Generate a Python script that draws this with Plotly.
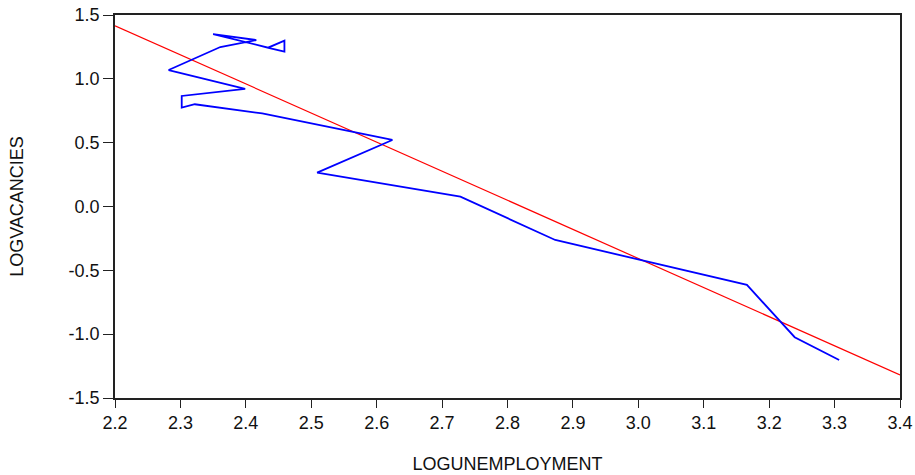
import plotly.graph_objects as go

# Path of the blue series (log unemployment, log vacancies)
log_unemployment = [3.307, 3.239, 3.166, 2.873, 2.728, 2.509, 2.624, 2.425,
                    2.322, 2.302, 2.302, 2.399, 2.282, 2.361, 2.416, 2.350,
                    2.434, 2.459, 2.459, 2.433]
log_vacancies = [-1.202, -1.024, -0.614, -0.262, 0.077, 0.265, 0.521, 0.729,
                 0.801, 0.774, 0.866, 0.921, 1.069, 1.249, 1.304, 1.351,
                 1.244, 1.299, 1.213, 1.245]

# Fitted (regression) line end points
fit_x = [2.2, 3.4]
fit_y = [1.416, -1.319]

x_tickvals = [2.2, 2.3, 2.4, 2.5, 2.6, 2.7, 2.8, 2.9, 3.0, 3.1, 3.2, 3.3, 3.4]
x_ticktext = ["2.2", "2.3", "2.4", "2.5", "2.6", "2.7", "2.8", "2.9", "3.0",
              "3.1", "3.2", "3.3", "3.4"]
y_tickvals = [-1.5, -1.0, -0.5, 0.0, 0.5, 1.0, 1.5]
y_ticktext = ["-1.5", "-1.0", "-0.5", "0.0", "0.5", "1.0", "1.5"]

FONT = "Liberation Sans, Arial, sans-serif"

fig = go.Figure()
fig.add_trace(go.Scatter(x=fit_x, y=fit_y, mode="lines",
                         line=dict(color="#ff0000", width=1.2),
                         showlegend=False, hoverinfo="skip"))
fig.add_trace(go.Scatter(x=log_unemployment, y=log_vacancies, mode="lines",
                         line=dict(color="#0000ff", width=1.8),
                         showlegend=False))

axis_common = dict(
    showgrid=False, zeroline=False, showline=True, mirror=True,
    linecolor="#222222", linewidth=1.5, ticks="outside",
    tickwidth=1, tickcolor="#222222", automargin=False,
    tickfont=dict(family=FONT, size=18, color="#111111"),
)

fig.update_layout(
    width=915, height=475,
    margin=dict(l=115, r=15, t=15, b=77),
    paper_bgcolor="white", plot_bgcolor="white",
    xaxis=dict(range=[2.2, 3.4], tickvals=x_tickvals, ticktext=x_ticktext,
               ticklen=8,
               title=dict(text="LOGUNEMPLOYMENT", standoff=25,
                          font=dict(family=FONT, size=18, color="#111111")),
               **axis_common),
    yaxis=dict(range=[-1.5, 1.5], tickvals=y_tickvals, ticktext=y_ticktext,
               ticklen=10,
               title=dict(text="LOGVACANCIES", standoff=40,
                          font=dict(family=FONT, size=18, color="#111111")),
               **axis_common),
)

fig.write_html("out.html")
